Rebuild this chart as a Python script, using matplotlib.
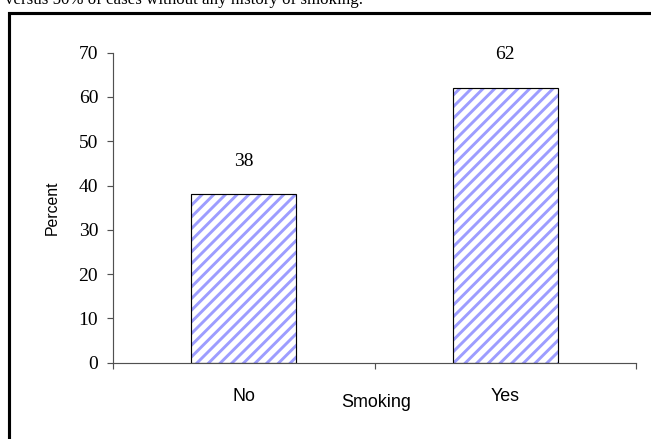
import matplotlib
matplotlib.use("Agg")
import matplotlib.pyplot as plt
from matplotlib.patches import Rectangle

categories = ["No", "Yes"]
percent = [38, 62]
y_ticks = [0, 10, 20, 30, 40, 50, 60, 70]
caption = "versus 50% of cases without any history of smoking."

DPI = 140
W, H = 651, 439

plt.rcParams["hatch.linewidth"] = 1.5
serif = "Liberation Serif"
sans = "Liberation Sans"

fig = plt.figure(figsize=(W / DPI, H / DPI), dpi=DPI)
ax = fig.add_axes([113 / W, (H - 362.7) / H, (636 - 113) / W, 310 / H])

x = list(range(len(categories)))
# striped fill first, then the black outline on top
ax.bar(x, percent, width=0.4, color="white", edgecolor="#9d9dff",
       hatch="////", linewidth=0)
ax.bar(x, percent, width=0.4, fill=False, edgecolor="black", linewidth=0.6)

for xi, v in zip(x, percent):
    ax.text(xi, v + 7.5, str(v), ha="center", va="center",
            family=serif, fontsize=10)

ax.set_xlim(-0.5, len(categories) - 0.5)
ax.set_ylim(0, 70)
ax.set_yticks(y_ticks)
ax.set_yticklabels([str(t) for t in y_ticks], family=serif, fontsize=10)

# boundary ticks between categories, labels sit on hidden minor ticks
ax.set_xticks([-0.5, 0.5, 1.5])
ax.set_xticklabels(["", "", ""])
ax.set_xticks(x, minor=True)
ax.set_xticklabels(categories, minor=True, family=sans, fontsize=9.2)
ax.tick_params(axis="x", which="minor", length=0, pad=13)
ax.tick_params(axis="both", which="major", length=3.1, width=0.6,
               color="#505050", direction="out")
ax.tick_params(axis="y", pad=4.5)

for side in ("top", "right"):
    ax.spines[side].set_visible(False)
for side in ("left", "bottom"):
    ax.spines[side].set_color("#505050")
    ax.spines[side].set_linewidth(0.6)

ax.set_xlabel("Smoking", family=sans, fontsize=9.2, va="center")
ax.xaxis.set_label_coords(0.503, -0.127)
ax.set_ylabel("Percent", family=sans, fontsize=8.2, va="center")
ax.yaxis.set_label_coords(-0.1166, 0.5)

# outer chart border
fig.patches.append(Rectangle((9 / W, -0.1), 1.2, (H - 13) / H + 0.1,
                             transform=fig.transFigure, fill=False,
                             edgecolor="black", linewidth=1.6))

fig.text(5 / W, (H - 4.5) / H, caption, family=serif, fontsize=8.7,
         ha="left", va="baseline")

fig.savefig("out.png", dpi=DPI)
